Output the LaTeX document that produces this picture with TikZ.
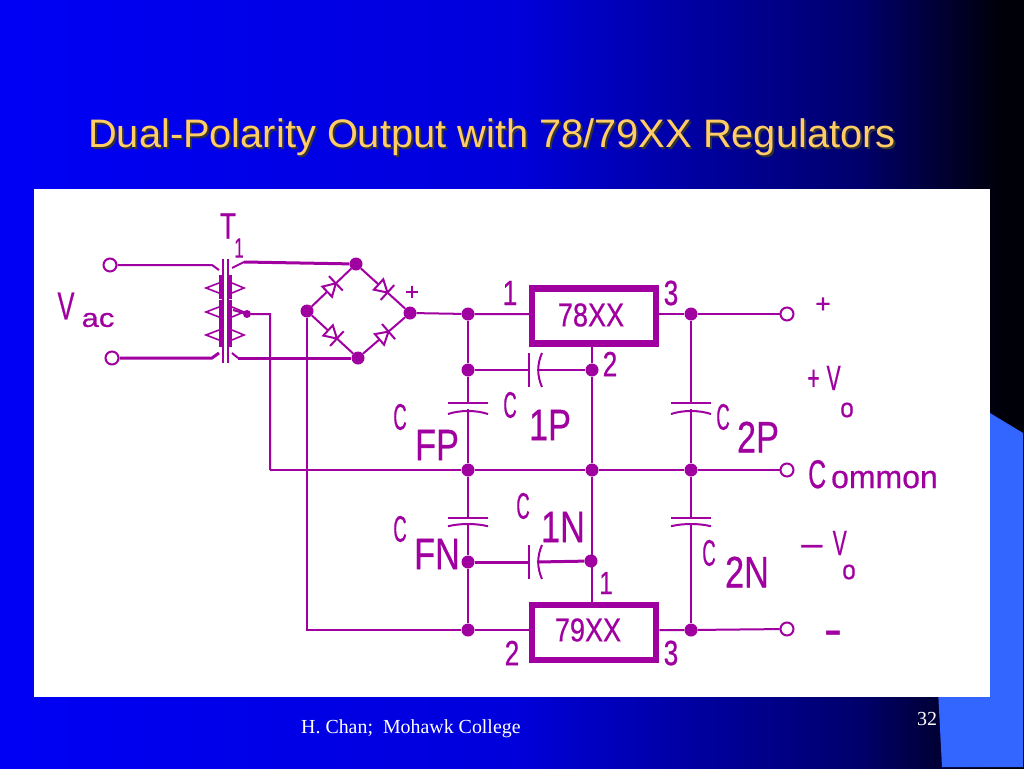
\documentclass[tikz,border=0pt]{standalone}
\usepackage{fontspec}
\setmainfont{Liberation Sans}
\newfontfamily\footfont{Liberation Serif}
\newfontfamily\cktfont[RawFeature={embolden=0.6}]{Liberation Sans}
\usetikzlibrary{positioning,calc}
\definecolor{ckt}{HTML}{A000A0}
\definecolor{wedge}{HTML}{3366FF}
\definecolor{titlecol}{HTML}{FFCC66}
\pgfdeclarehorizontalshading{slidebg}{100bp}{
  rgb(0bp)=(0,0,.96); rgb(25bp)=(0,0,.96); rgb(50bp)=(0,0,.86);
  rgb(67bp)=(0,0,.42); rgb(74bp)=(0,0,.03); rgb(100bp)=(0,0,0)}
\tikzset{
wire/.style={draw=ckt, line width=2pt},
bigwire/.style={draw=ckt, line width=3pt},
jdot/.style={circle, fill=ckt, inner sep=0pt, minimum size=13pt},
term/.style={circle, draw=ckt, line width=2pt, fill=white, inner sep=0pt, minimum size=13pt},
regbox/.style={rectangle, draw=ckt, line width=6.5pt, fill=white, inner sep=0pt,
  minimum width=124pt, minimum height=55pt},
lbl/.style={text=ckt, inner sep=0pt, font=\cktfont\fontsize{#1}{#1}\selectfont},
lbl/.default=24,
diode/.pic={
  \draw[wire, fill=white] (-6,-7) -- (6,0) -- (-6,7) -- cycle;
  \draw[wire] (6,-10) -- (6,10);
},
capdown/.pic={
  \draw[wire] (-20,0) -- (20,0);
  \draw[wire] (-20,11) .. controls (-8,7) and (8,7) .. (20,11);
},
capside/.pic={
  \draw[wire] (0,-17) -- (0,17);
  \draw[wire] (13,-17) .. controls (8,-6) and (8,6) .. (13,17);
}
}

\begin{document}
\begin{tikzpicture}[x=1pt,y=-1pt]
\useasboundingbox (0,0) rectangle (1024,768);

% slide background
\path[shading=slidebg] (0,0) rectangle (1024,768);
\fill[wedge] (985,410) -- (1023,433) -- (1023,767) -- (942,767) -- (938,690) -- cycle;
\fill[white] (34,189) rectangle (990,697);

% title and footer
\node[anchor=base west, inner sep=0pt, text=black!80, font=\fontsize{39.8}{39.8}\selectfont]
  (titleshadow) at (90,149.5) {Dual-Polarity Output with 78/79XX Regulators};
\node[anchor=base west, inner sep=0pt, text=titlecol, font=\fontsize{39.8}{39.8}\selectfont]
  (title) at (88,147.5) {Dual-Polarity Output with 78/79XX Regulators};
\node[anchor=base west, inner sep=0pt, text=white, font=\footfont\fontsize{19.9}{19.9}\selectfont]
  (footer) at (301,733) {H. Chan;\ \ Mohawk College};
\node[anchor=base west, inner sep=0pt, text=white, font=\footfont\fontsize{19.9}{19.9}\selectfont]
  (pagenum) at (917,725) {32};

% terminals and junctions
\node[term] (acT) at (110,265) {};
\node[term] (acB) at (112,358) {};
\node[term] (outP) at (787,314) {};
\node[term] (outC) at (787,470) {};
\node[term] (outN) at (787,629) {};

\node[jdot] (brT) at (356,264) {};
\node[jdot] (brB) at (358,358) {};
\node[jdot] (brL) at (307,311) {};
\node[jdot] (brR) at (410,313) {};
\node[jdot, minimum size=8pt] (tap) at (247,314) {};

\node[regbox] (reg78) at (594,316) {};
\node[regbox] (reg79) at (594,632.5) {};
\node[lbl=33, xscale=.82] (reg78t) at (591,315) {78XX};
\node[lbl=33, xscale=.82] (reg79t) at (588,630) {79XX};

\node[jdot] (inP) at (468,314) {};
\node[jdot] (fbP) at (468,370) {};
\node[jdot] (gndF) at (468,470) {};
\node[jdot] (fbN) at (468,562) {};
\node[jdot] (inN) at (468,630) {};
\node[jdot] (adjP) at (592,370) {};
\node[jdot] (gndA) at (592,470) {};
\node[jdot] (adjN) at (591,561) {};
\node[jdot] (vP) at (691,314) {};
\node[jdot] (gndO) at (691,470) {};
\node[jdot] (vN) at (691,630) {};

% transformer
\coordinate (priT) at (212,265);
\coordinate (priB) at (212,358);
\coordinate (secT) at (244,262);
\coordinate (secB) at (238,358);
\coordinate (tapin) at (233,310);
\coordinate (tapR) at (270,314);
\coordinate (tapD) at (270,470);
\coordinate (brLD) at (307,630);

\draw[wire] (acT) -- (priT) -- (219,270);
\draw[bigwire] (acB) -- (priB) -- (219,353);
\draw[wire] (222.7,259) -- (222.7,363);
\draw[wire] (227.7,259) -- (227.7,363);
\foreach \y in {275,300,323} {
  \draw[ckt, line width=4pt] (220.5,\y) -- (220.5,\y+24);
  \draw[ckt, line width=4pt] (230,\y) -- (230,\y+24);
}
\foreach \y in {288,312,335} {
  \draw[wire, line width=1.6pt] (219,\y-5) -- (206,\y) -- (219,\y+5);
  \draw[wire, line width=1.6pt] (232,\y-5) -- (244,\y) -- (232,\y+5);
}
\draw[wire] (232,268) -- (secT);
\draw[bigwire] (secT) -- (brT);
\draw[wire] (232,353) -- (secB);
\draw[bigwire] (secB) -- (brB);
\draw[wire] (tapin) -- (tap) -- (tapR) -- (tapD);

% bridge
\draw[wire] (brL) -- (brT) pic[pos=.5, sloped] {diode};
\draw[wire] (brT) -- (brR) pic[pos=.5, sloped] {diode};
\draw[wire] (brL) -- (brB) pic[pos=.5, sloped] {diode};
\draw[wire] (brB) -- (brR) pic[pos=.5, sloped] {diode};

% rails
\draw[wire] (brR) -- (inP) -- (inP -| reg78.west);
\draw[wire] (tapD) -- (gndF) -- (gndA) -- (gndO) -- (outC);
\draw[wire] (brL) -- (brLD) -- (inN) -- (inN -| reg79.west);
\draw[wire] (vP -| reg78.east) -- (vP) -- (outP);
\draw[wire] (vN -| reg79.east) -- (vN) -- (outN);

% input caps
\draw[wire] (inP) -- (fbP) -- (gndF) -- (fbN) -- (inN);
\draw[wire] (adjP |- reg78.south) -- (adjP) -- (gndA) -- (adjN -| gndA) -- (gndA |- reg79.north);
\fill[white] (460,404) rectangle (476,409);
\path (468,403) pic {capdown};
\fill[white] (460,519) rectangle (476,523);
\path (468,518) pic[yscale=.75] {capdown};

% output caps
\draw[wire] (vP) -- (gndO) -- (vN);
\fill[white] (683,404) rectangle (699,409);
\path (691,403) pic {capdown};
\fill[white] (683,519) rectangle (699,523);
\path (691,518) pic[yscale=.75] {capdown};

% side caps
\coordinate (c1Pa) at (529,370);
\coordinate (c1Pb) at (537,370);
\coordinate (c1Na) at (529,562);
\coordinate (c1Nb) at (537,562);
\draw[wire] (fbP) -- (c1Pa);
\draw[wire] (c1Pb) -- (adjP);
\draw[bigwire] (fbN) -- (c1Na);
\draw[bigwire] (c1Nb) -- (adjN);
\path (c1Pa) pic {capside};
\path (c1Na) pic {capside};

% labels
\node[lbl=37, xscale=.7] (T1a) at (228,226) {T};
\node[lbl=28, xscale=.6] (T1b) at (239,248) {1};
\node[lbl=39, xscale=.65] (Vac) at (66,306) {V};
\node[lbl=26, xscale=1.2] (ac) at (98,320) {ac};
\node[lbl=24] (brplus) at (412,293) {+};

\node[lbl=35, xscale=.75] (n1a) at (510,293) {1};
\node[lbl=35, xscale=.75] (n2a) at (610,364) {2};
\node[lbl=35, xscale=.75] (n3a) at (671,293) {3};
\node[lbl=32, xscale=.75] (n1b) at (606,583) {1};
\node[lbl=35, xscale=.75] (n2b) at (512,653) {2};
\node[lbl=35, xscale=.75] (n3b) at (671,653) {3};

\node[lbl=37, xscale=.5] (CFP) at (400,417) {C};
\node[lbl=44, xscale=.78] (CFPs) at (437,445) {FP};
\node[lbl=37, xscale=.5] (C1P) at (510,405) {C};
\node[lbl=44, xscale=.78] (C1Ps) at (550,425) {1P};
\node[lbl=37, xscale=.5] (CFN) at (400,529) {C};
\node[lbl=44, xscale=.78] (CFNs) at (437,554) {FN};
\node[lbl=37, xscale=.5] (C1N) at (523,506) {C};
\node[lbl=44, xscale=.78] (C1Ns) at (563,527) {1N};
\node[lbl=37, xscale=.5] (C2P) at (723,417) {C};
\node[lbl=44, xscale=.78] (C2Ps) at (758,437) {2P};
\node[lbl=37, xscale=.5] (C2N) at (709,553) {C};
\node[lbl=44, xscale=.78] (C2Ns) at (747,572) {2N};

\node[lbl=26] (plus) at (823,305) {+};
\node[lbl=35, xscale=.6] (pV) at (824,378) {+\,\,V};
\node[lbl=27, xscale=.9] (pVo) at (847,410) {o};
\node[lbl=35, xscale=.6] (mV) at (824,543) {\textemdash\,\,\,V};
\node[lbl=27, xscale=.9] (mVo) at (849,572) {o};
\node[lbl=36, font=\bfseries\fontsize{36}{36}\selectfont, xscale=1.5] (minus) at (833,637) {-};
\node[lbl=32, anchor=base west] (common) at (808,488) {\scalebox{.62}[1]{\fontsize{40}{40}\selectfont C}\hspace{5pt}ommon};
\end{tikzpicture}
\end{document}
